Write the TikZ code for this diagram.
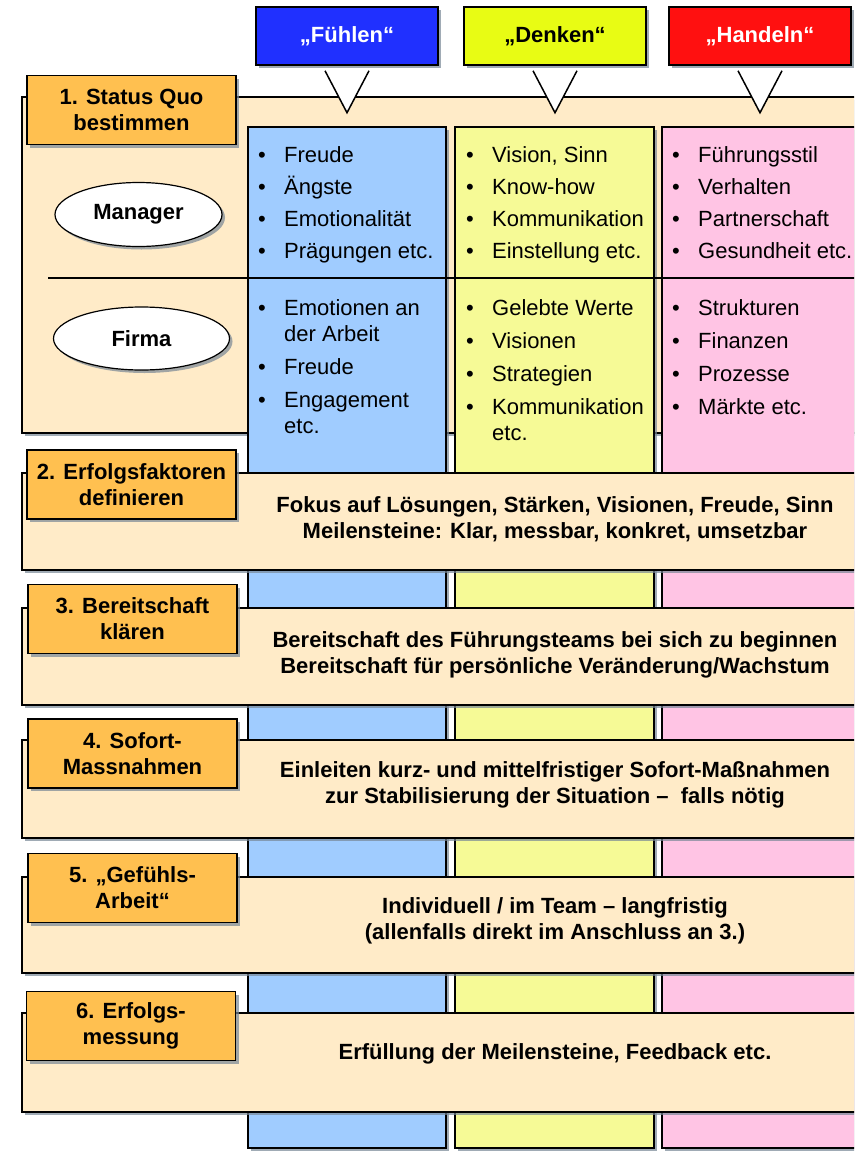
\documentclass[tikz,border=0pt]{standalone}
\usepackage{fontspec}
\setmainfont{Liberation Sans}
\usetikzlibrary{shadows,shapes.geometric}

\definecolor{kopfblau}{RGB}{32,48,255}
\definecolor{kopfgelb}{RGB}{232,252,20}
\definecolor{kopfrot}{RGB}{255,16,16}
\definecolor{stufenorange}{RGB}{255,192,80}
\definecolor{feldbeige}{RGB}{255,235,200}
\definecolor{spalteblau}{RGB}{160,204,255}
\definecolor{spaltegelb}{RGB}{246,250,150}
\definecolor{spalterosa}{RGB}{255,196,228}
\definecolor{schatten}{RGB}{120,135,150}

\newcommand{\bul}{\makebox[26pt][l]{\rule{0pt}{20pt}\textbullet}}
\newcommand{\ein}{\hspace*{26pt}}

\tikzset{
  schatten/.style={drop shadow={shadow xshift=3pt, shadow yshift=-3pt, fill=schatten, opacity=0.7}},
  kopf/.style={draw, line width=1.5pt, minimum width=182pt, minimum height=58pt, inner sep=0pt,
    font=\bfseries\fontsize{22}{26}\selectfont, schatten},
  stufe/.style={draw, line width=1.5pt, fill=stufenorange, minimum width=209pt, minimum height=69pt,
    inner sep=0pt, align=center, font=\bfseries\fontsize{22}{26}\selectfont, schatten},
  feld/.style={draw, line width=1.5pt, fill=feldbeige, minimum width=848pt, inner sep=0pt, schatten},
  spalte/.style={draw, line width=1.5pt, minimum height=1021pt, inner sep=0pt, schatten},
  liste/.style={anchor=north west, inner sep=0pt, align=left, font=\fontsize{22}{26}\selectfont},
  rolle/.style={ellipse, draw, line width=1.2pt, fill=white, inner sep=0pt,
    font=\bfseries\fontsize{22}{26}\selectfont, schatten},
  inhalt/.style={align=center, inner sep=0pt, font=\bfseries\fontsize{22}{26}\selectfont}
}

\begin{document}
\begin{tikzpicture}[x=1pt, y=-1pt]
    \useasboundingbox (0,0) rectangle (854,1151);
    \clip (0,0) rectangle (854,1151);

    % Stufe 1 mit den drei Spalten
    \node[feld, minimum height=336pt] (p1) at (446,265) {};
    \node[spalte, fill=spalteblau, minimum width=198pt] (sF) at (347,637.5) {};
    \node[spalte, fill=spaltegelb, minimum width=199pt] (sD) at (554.5,637.5) {};
    \node[spalte, fill=spalterosa, minimum width=218pt] (sH) at (771,637.5) {};
    \draw[line width=1.5pt] (48,278) -- (870,278);

    \node[liste] (fM) at (258,142) {\bul Freude\\[6pt]\bul Ängste\\[6pt]\bul Emotionalität\\[6pt]\bul Prägungen etc.};
    \node[liste] (dM) at (466,142) {\bul Vision, Sinn\\[6pt]\bul Know-how\\[6pt]\bul Kommunikation\\[6pt]\bul Einstellung etc.};
    \node[liste] (hM) at (672,142) {\bul Führungsstil\\[6pt]\bul Verhalten\\[6pt]\bul Partnerschaft\\[6pt]\bul Gesundheit etc.};
    \node[liste] (fF) at (258,295) {\bul Emotionen an\\\ein der Arbeit\\[7pt]\bul Freude\\[7pt]\bul Engagement\\\ein etc.};
    \node[liste] (dF) at (466,295) {\bul Gelebte Werte\\[7pt]\bul Visionen\\[7pt]\bul Strategien\\[7pt]\bul Kommunikation\\\ein etc.};
    \node[liste] (hF) at (672,295) {\bul Strukturen\\[7pt]\bul Finanzen\\[7pt]\bul Prozesse\\[7pt]\bul Märkte etc.};

    \node[rolle, minimum width=167pt, minimum height=64pt] (manager) at (138.5,214.5) {Manager};
    \node[rolle, minimum width=176pt, minimum height=63pt] (firma) at (141.5,338.5) {Firma};
    \node[stufe] (s1) at (131.5,110) {1. Status Quo\\bestimmen};

    % Koepfe mit Sprechblasen
    \node[kopf, fill=kopfblau, text=white] (fuehlen) at (347,36) {„Fühlen“};
    \node[kopf, fill=kopfgelb] (denken) at (555,36) {„Denken“};
    \node[kopf, fill=kopfrot, text=white] (handeln) at (760,36) {„Handeln“};
    \foreach \k in {fuehlen,denken,handeln} {
        \fill[white] ([xshift=-22pt,yshift=-5pt]\k.south) -- ([yshift=-47pt]\k.south)
            -- ([xshift=22pt,yshift=-5pt]\k.south) -- cycle;
        \draw[line width=1.5pt, line join=miter] ([xshift=-22pt,yshift=-5pt]\k.south)
            -- ([yshift=-47pt]\k.south) -- ([xshift=22pt,yshift=-5pt]\k.south);
    }

    % Stufen 2 bis 6
    \node[feld, minimum height=97pt] (p2) at (446,521.5) {};
    \node[stufe] (s2) at (131.5,484.5) {2. Erfolgsfaktoren\\definieren};
    \node[inhalt] (t2) at (555,519) {Fokus auf Lösungen, Stärken, Visionen, Freude, Sinn\\Meilensteine: Klar, messbar, konkret, umsetzbar};

    \node[feld, minimum height=97pt] (p3) at (446,656.5) {};
    \node[stufe] (s3) at (132.5,619) {3. Bereitschaft\\klären};
    \node[inhalt] (t3) at (555,655) {Bereitschaft des Führungsteams bei sich zu beginnen\\Bereitschaft für persönliche Veränderung/Wachstum};

    \node[feld, minimum height=98pt] (p4) at (446,789) {};
    \node[stufe] (s4) at (132.5,753.5) {4. Sofort-\\Massnahmen};
    \node[inhalt] (t4) at (555,785) {Einleiten kurz- und mittelfristiger Sofort-Maßnahmen\\zur Stabilisierung der Situation –\ \ falls nötig};

    \node[feld, minimum height=96pt] (p5) at (446,925) {};
    \node[stufe] (s5) at (132.5,888) {5. „Gefühls-\\Arbeit“};
    \node[inhalt] (t5) at (555,921) {Individuell / im Team – langfristig\\(allenfalls direkt im Anschluss an 3.)};

    \node[feld, minimum height=99pt] (p6) at (446,1062.5) {};
    \node[stufe] (s6) at (131,1026) {6. Erfolgs-\\messung};
    \node[inhalt] (t6) at (555,1054) {Erfüllung der Meilensteine, Feedback etc.};
\end{tikzpicture}
\end{document}
